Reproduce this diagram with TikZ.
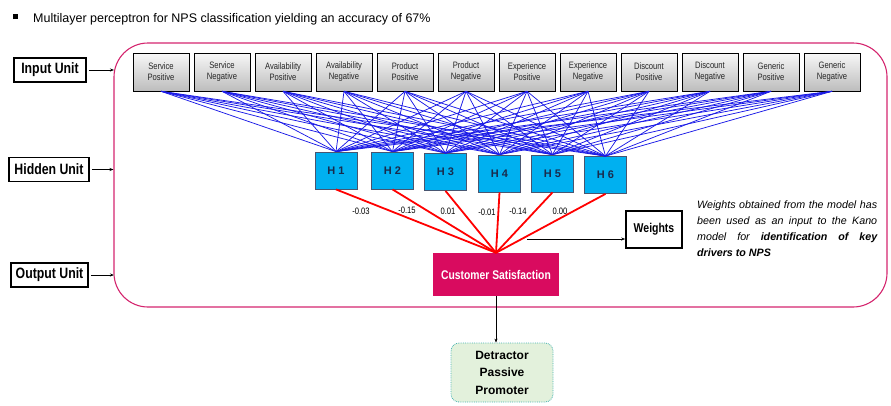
\documentclass[tikz,border=0pt]{standalone}
\usepackage{fontspec}
\setmainfont{Liberation Sans}
\newfontfamily\narrowfont[FakeStretch=0.82]{Liberation Sans}
\usetikzlibrary{arrows.meta}
\definecolor{framecol}{HTML}{D4256E}
\definecolor{hidcol}{HTML}{00B0F0}
\definecolor{cscol}{HTML}{D90B5F}
\definecolor{navycol}{HTML}{1A2B4C}
\definecolor{wirecol}{HTML}{1A1AE6}
\definecolor{greenfill}{HTML}{E3F1DC}
\definecolor{tealcol}{HTML}{46B3B0}
\begin{document}
\begin{tikzpicture}[x=1pt,y=-1pt,
  inbox/.style={draw=black, line width=0.6pt, top color=gray!6, bottom color=gray!52,
    minimum width=56pt, minimum height=38pt, inner sep=0pt, align=center,
    font=\narrowfont\fontsize{9.3}{11}\selectfont, text=black!85},
  hbox/.style={draw=navycol!80, line width=0.8pt, fill=hidcol, minimum width=42pt,
    minimum height=37pt, inner sep=0pt, font=\bfseries\fontsize{11}{13}\selectfont, text=navycol},
  unitlabel/.style={draw=black, line width=1.6pt, inner sep=0pt, minimum height=24pt,
    font=\narrowfont\bfseries\fontsize{15}{17}\selectfont},
  bluewire/.style={draw=wirecol, line width=0.75pt},
  redwire/.style={draw=red, line width=1.8pt},
  wlabel/.style={font=\narrowfont\fontsize{9.3}{10}\selectfont, inner sep=0pt},
  thinarrow/.style={draw=black, line width=0.6pt, -{Stealth[length=4pt,width=3pt]}}
]
\useasboundingbox (0,0) rectangle (891,405);

% title
\node[anchor=base west, inner sep=0pt, font=\fontsize{12.5}{14}\selectfont] (title) at (13,22.3)
  {\rule[3.3pt]{5pt}{5pt}\hspace{15pt}Multilayer perceptron for NPS classification yielding an accuracy of 67\%};

% frame
\draw[framecol, line width=1.1pt, rounded corners=34pt] (114,43) rectangle (887,307);

% input units
\foreach \i/\t in {1/{Service\\Positive},2/{Service\\Negative},3/{Availability\\Positive},
  4/{Availability\\Negative},5/{Product\\Positive},6/{Product\\Negative},
  7/{Experience\\Positive},8/{Experience\\Negative},9/{Discount\\Positive},
  10/{Discount\\Negative},11/{Generic\\Positive},12/{Generic\\Negative}}
  \node[inbox] (in\i) at ({161+61*(\i-1)},72) {\t};

% hidden units
\node[hbox] (h1) at (336,170.5) {H 1};
\node[hbox] (h2) at (392.5,170.5) {H 2};
\node[hbox] (h3) at (445.5,172) {H 3};
\node[hbox] (h4) at (499.5,173.5) {H 4};
\node[hbox] (h5) at (552.5,173.5) {H 5};
\node[hbox] (h6) at (605.5,175) {H 6};

\foreach \i in {1,...,12}
  \foreach \j in {1,...,6}
    \draw[bluewire] (in\i.south) -- (h\j.north);

% output
\node[fill=cscol, minimum width=126pt, minimum height=43pt, inner sep=0pt, text=white,
  font=\narrowfont\bfseries\fontsize{12.6}{14}\selectfont] (cs) at (496,274.5) {Customer Satisfaction};

\foreach \j in {1,...,6}
  \draw[redwire] (h\j.south) -- (cs.north);

\node[wlabel] (w1) at (361,211) {-0.03};
\node[wlabel] (w2) at (407,210) {-0.15};
\node[wlabel] (w3) at (448,211) {0.01};
\node[wlabel] (w4) at (487,212) {-0.01};
\node[wlabel] (w5) at (518,211) {-0.14};
\node[wlabel] (w6) at (560,211) {0.00};

% weights
\node[draw=black, line width=1.6pt, minimum width=56pt, minimum height=37pt, inner sep=0pt,
  font=\narrowfont\bfseries\fontsize{12.8}{14}\selectfont] (weights) at (654,229.5) {Weights};
\coordinate (wstart) at (527,239);
\draw[thinarrow] (wstart) -- (wstart -| weights.west);

\node[anchor=north west, inner sep=0pt, text width=180pt, align=justify,
  font=\itshape\fontsize{10.7}{15.7}\selectfont] (note) at (697,201)
  {Weights obtained from the model has\linebreak been used as an input to the Kano\linebreak model for \textbf{identification of key\linebreak drivers to NPS}};

% unit labels
\node[unitlabel, minimum width=72pt] (lin) at (50,70) {Input Unit};
\node[unitlabel, minimum width=80pt] (lhid) at (49,169.5) {Hidden Unit};
\node[unitlabel, minimum width=77pt] (lout) at (49.5,275) {Output Unit};
\coordinate (fin) at (114,70);
\coordinate (fhid) at (113.5,169.5);
\coordinate (fout) at (114,275);
\draw[thinarrow] (lin.east) ++(2,0) -- (fin);
\draw[thinarrow] (lhid.east) ++(2,0) -- (fhid);
\draw[thinarrow] (lout.east) ++(2,0) -- (fout);

% result
\node[draw=tealcol, densely dotted, line width=0.8pt, fill=greenfill, rounded corners=8pt,
  minimum width=102pt, minimum height=59pt, inner sep=0pt, align=center,
  font=\bfseries\fontsize{12}{17.5}\selectfont] (res) at (502,372.5) {Detractor\\Passive\\Promoter};
\draw[thinarrow] (cs.south) -- (cs.south |- res.north);
\end{tikzpicture}
\end{document}
